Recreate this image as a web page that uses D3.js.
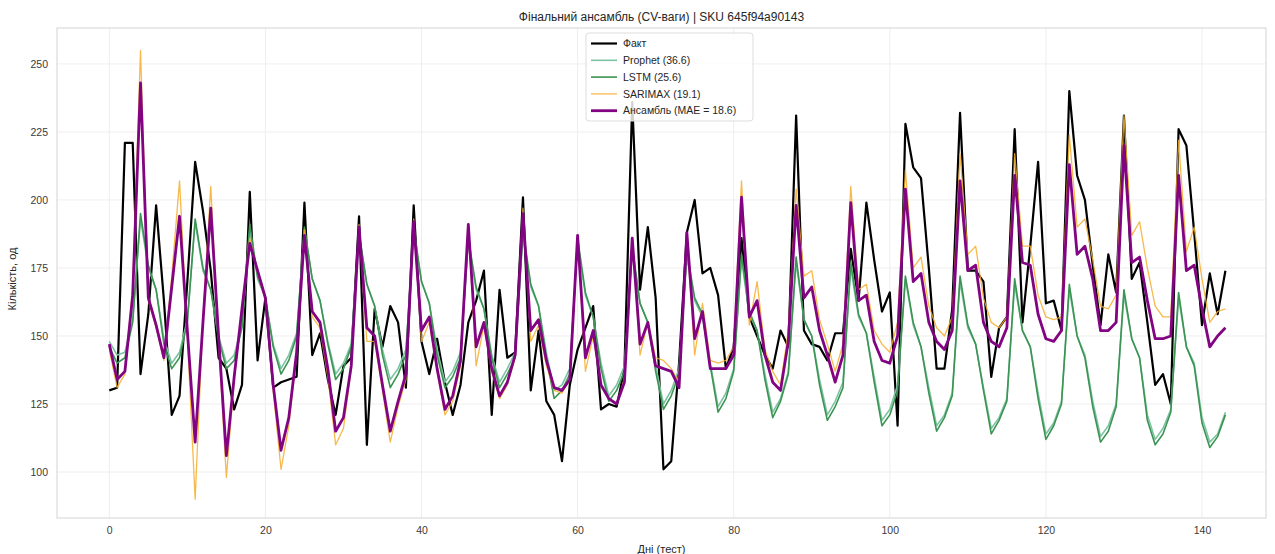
<!DOCTYPE html>
<html>
<head>
<meta charset="utf-8">
<script src="https://cdn.jsdelivr.net/npm/d3@7/dist/d3.min.js"></script>
<style>
	body { margin: 0; background: #fff; }
	text { font-family: "Liberation Sans", Arial, sans-serif; }
</style>
</head>
<body>
<svg id="chart" width="1275" height="554"></svg>
<script>
// Data
const fact = [130,131,221,221,136,158,198,163,121,128,170,214,196,174,142,138,123,132,203,141,
	164,131,133,134,135,199,143,151,134,121,139,142,194,110,160,146,161,155,131,198,
	148,136,149,133,121,132,155,163,174,121,167,142,144,201,130,152,126,121,104,132,
	145,153,161,123,125,124,138,236,167,190,164,101,104,140,188,200,173,175,165,138,
	146,186,157,150,143,138,152,146,231,152,147,146,141,151,151,182,163,199,178,159,
	166,117,228,212,208,175,138,138,160,232,174,174,170,135,153,157,226,155,183,214,
	162,163,152,240,209,200,176,154,180,166,231,171,177,155,132,136,125,226,220,188,
	154,173,158,174]

const prophet = [148,143,144,156,193,175,167,149,140,144,156,192,174,167,150,140,143,154,189,171,
	164,147,138,143,151,189,171,163,148,136,140,147,187,169,161,145,134,138,145,188,
	170,162,145,133,137,144,185,167,160,143,133,138,144,187,168,161,144,130,132,138,
	184,165,157,140,128,132,139,181,162,155,139,125,130,138,179,163,157,140,124,129,
	138,178,158,152,136,122,127,137,177,156,150,134,121,126,133,175,157,151,135,119,
	123,132,171,154,146,131,117,121,129,170,153,147,131,116,120,127,169,152,146,129,
	114,118,126,167,150,143,126,113,117,125,165,149,142,121,112,116,123,164,146,140,
	120,111,114,122]

const lstm = [146,140,142,155,195,176,167,147,138,142,155,193,175,167,149,138,141,153,191,172,
	164,146,136,141,150,190,171,163,147,134,138,146,188,169,161,143,131,136,143,190,
	170,162,143,131,135,142,186,168,160,142,131,136,142,189,169,161,142,127,130,136,
	186,166,157,138,126,130,137,183,162,155,137,123,128,136,181,164,158,139,122,127,
	137,180,159,152,134,120,126,136,179,156,150,132,119,124,131,177,158,151,133,117,
	121,130,172,155,146,129,115,120,128,172,154,147,130,114,119,126,171,152,146,127,
	112,117,125,169,150,142,124,111,115,124,167,149,142,119,110,114,122,166,146,139,
	118,109,113,121]

const sarimax = [145,131,136,168,255,163,153,141,172,207,150,90,156,205,148,98,134,160,186,173,
	163,130,101,117,143,189,157,153,135,110,116,138,191,148,148,130,111,124,134,193,
	148,155,137,121,126,139,191,139,154,137,127,132,142,197,148,154,139,130,129,134,
	187,137,150,132,127,125,134,186,143,155,142,141,138,133,187,143,162,141,140,141,
	146,207,154,170,145,137,132,152,204,172,174,156,147,137,147,205,167,169,152,147,
	144,155,211,175,179,161,153,150,157,217,180,183,164,155,153,157,217,183,183,165,
	157,156,157,224,190,193,178,161,160,165,231,187,192,175,161,157,157,222,181,190,
	171,155,159,160]

const ensemble = [147,134,137,165,243,164,154,142,168,194,152,111,155,197,150,106,135,160,184,174,
	164,132,108,120,144,187,159,155,138,115,120,139,190,153,150,132,115,126,136,192,
	152,157,138,123,128,141,191,146,155,138,128,133,143,195,152,156,141,131,130,134,
	187,142,152,132,127,125,133,186,147,155,139,138,137,131,188,149,159,138,138,138,
	143,201,157,163,143,133,130,148,198,164,168,152,143,133,143,199,163,165,148,141,
	140,150,204,170,173,155,148,145,152,207,174,176,155,148,146,153,209,177,176,158,
	149,148,152,213,180,183,171,152,152,155,220,177,179,163,149,149,150,209,174,176,
	160,146,150,153]

const seriesNames = ['Факт', 'Prophet (36.6)', 'LSTM (25.6)', 'SARIMAX (19.1)', 'Ансамбль (MAE = 18.6)']
const xTicks = [0, 20, 40, 60, 80, 100, 120, 140]
const yTicks = [100, 125, 150, 175, 200, 225, 250]

const series = [fact, prophet, lstm, sarimax, ensemble]
const styles = [
	{ color: '#000000', width: 2.2, opacity: 1 },
	{ color: '#7cc3a3', width: 1.6, opacity: 1 },
	{ color: '#3b9452', width: 1.6, opacity: 1 },
	{ color: '#f6ad2b', width: 1.3, opacity: 0.85 },
	{ color: '#820482', width: 2.8, opacity: 1 }
]

const margin = { left: 57, right: 1266, top: 28, bottom: 518 }

const x = d3.scaleLinear().domain([-6.7, 148.2]).range([margin.left, margin.right])
const y = d3.scaleLinear().domain([83.1, 263.2]).range([margin.bottom, margin.top])

const svg = d3.select('#chart')

// Grid
const grid = svg.append('g').attr('class', 'grid')
grid.selectAll('line.vx')
	.data(xTicks)
	.enter()
	.append('line')
	.attr('x1', d => x(d)).attr('x2', d => x(d))
	.attr('y1', margin.top).attr('y2', margin.bottom)
	.attr('stroke', '#eeeeee').attr('stroke-width', 1)
grid.selectAll('line.hy')
	.data(yTicks)
	.enter()
	.append('line')
	.attr('x1', margin.left).attr('x2', margin.right)
	.attr('y1', d => y(d)).attr('y2', d => y(d))
	.attr('stroke', '#eeeeee').attr('stroke-width', 1)

// Axes (labels only, no tick marks)
const xAxis = svg.append('g')
	.attr('transform', `translate(0,${margin.bottom})`)
	.call(d3.axisBottom(x).tickValues(xTicks).tickSize(0).tickPadding(9))
const yAxis = svg.append('g')
	.attr('transform', `translate(${margin.left},0)`)
	.call(d3.axisLeft(y).tickValues(yTicks).tickSize(0).tickPadding(9))

;[xAxis, yAxis].forEach(a => {
	a.select('.domain').remove()
	a.selectAll('text')
		.attr('font-size', 10.5)
		.attr('fill', '#3a3a3a')
		.attr('font-family', '"Liberation Sans", Arial, sans-serif')
})

// Lines
const line = d3.line()
	.x((d, i) => x(i))
	.y(d => y(d))

svg.append('g')
	.attr('class', 'series')
	.selectAll('path')
	.data(series)
	.enter()
	.append('path')
	.attr('d', line)
	.attr('fill', 'none')
	.attr('stroke', (d, i) => styles[i].color)
	.attr('stroke-width', (d, i) => styles[i].width)
	.attr('stroke-opacity', (d, i) => styles[i].opacity)
	.attr('stroke-linejoin', 'round')

// Frame
svg.append('rect')
	.attr('x', margin.left).attr('y', margin.top)
	.attr('width', margin.right - margin.left)
	.attr('height', margin.bottom - margin.top)
	.attr('fill', 'none')
	.attr('stroke', '#d4d4d4')
	.attr('stroke-width', 1)

// Title & axis labels
svg.append('text')
	.attr('x', (margin.left + margin.right) / 2)
	.attr('y', 21)
	.attr('text-anchor', 'middle')
	.attr('font-size', 12)
	.attr('fill', '#262626')
	.text('Фінальний ансамбль (CV-ваги) | SKU 645f94a90143')

svg.append('text')
	.attr('transform', `translate(16,${(margin.top + margin.bottom) / 2 + 6}) rotate(-90)`)
	.attr('text-anchor', 'middle')
	.attr('font-size', 11)
	.attr('fill', '#262626')
	.text('Кількість, од')

svg.append('text')
	.attr('x', (margin.left + margin.right) / 2)
	.attr('y', 553)
	.attr('text-anchor', 'middle')
	.attr('font-size', 11)
	.attr('fill', '#262626')
	.text('Дні (тест)')

// Legend
const legend = svg.append('g')
	.attr('class', 'legend')
	.attr('transform', 'translate(586,33)')

legend.append('rect')
	.attr('width', 167).attr('height', 88)
	.attr('rx', 3)
	.attr('fill', '#ffffff').attr('fill-opacity', 0.82)
	.attr('stroke', '#dddddd')

const items = legend.selectAll('g.item')
	.data(seriesNames)
	.enter()
	.append('g')
	.attr('class', 'item')
	.attr('transform', (d, i) => `translate(0,${10.5 + i * 16.8})`)

items.append('line')
	.attr('x1', 5).attr('x2', 31)
	.attr('stroke', (d, i) => styles[i].color)
	.attr('stroke-width', (d, i) => styles[i].width)
	.attr('stroke-opacity', (d, i) => styles[i].opacity)

items.append('text')
	.attr('x', 37)
	.attr('dy', '0.35em')
	.attr('font-size', 10.5)
	.attr('fill', '#262626')
	.text(d => d)
</script>
</body>
</html>
